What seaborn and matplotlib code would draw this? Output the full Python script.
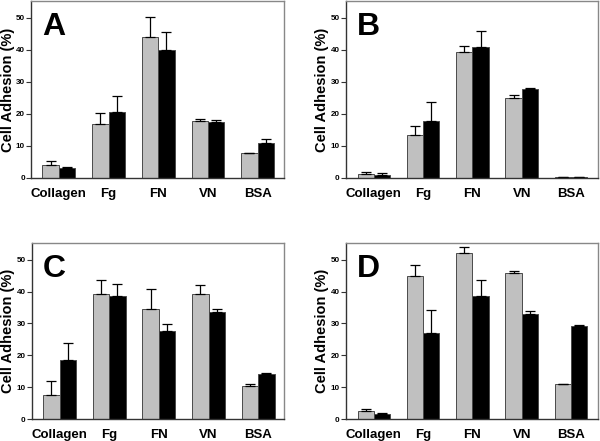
import matplotlib
matplotlib.use("Agg")
import matplotlib.pyplot as plt
import seaborn as sns
import pandas as pd
import numpy as np

categories = ["Collagen", "Fg", "FN", "VN", "BSA"]
groups = ["gray", "black"]

# Panel A
a_gray = [3.95, 17.0, 43.9, 17.7, 7.7]
a_gray_sd = [1.25, 3.3, 6.5, 0.8, 0.2]
a_black = [3.1, 20.6, 40.0, 17.5, 11.0]
a_black_sd = [0.2, 5.1, 5.5, 0.6, 1.1]
# Panel B
b_gray = [1.25, 13.3, 39.5, 25.1, 0.3]
b_gray_sd = [0.65, 2.9, 1.8, 0.8, 0.1]
b_black = [1.0, 17.8, 41.0, 27.8, 0.2]
b_black_sd = [0.6, 6.1, 5.0, 0.2, 0.05]
# Panel C
c_gray = [7.6, 39.3, 34.4, 39.3, 10.5]
c_gray_sd = [4.5, 4.3, 6.4, 2.8, 0.5]
c_black = [18.7, 38.6, 27.5, 33.6, 14.3]
c_black_sd = [5.3, 3.8, 2.4, 1.0, 0.3]
# Panel D
d_gray = [2.7, 45.0, 52.1, 45.8, 10.9]
d_gray_sd = [0.5, 3.4, 2.0, 0.7, 0.3]
d_black = [1.55, 26.9, 38.5, 32.9, 29.2]
d_black_sd = [0.45, 7.4, 5.0, 1.05, 0.4]

panels = [
    ("A", a_gray, a_gray_sd, a_black, a_black_sd),
    ("B", b_gray, b_gray_sd, b_black, b_black_sd),
    ("C", c_gray, c_gray_sd, c_black, c_black_sd),
    ("D", d_gray, d_gray_sd, d_black, d_black_sd),
]

sns.set_style("white")
plt.rcParams["font.family"] = ["Liberation Sans", "DejaVu Sans"]
plt.rcParams["font.weight"] = "bold"
plt.rcParams["text.color"] = "black"
plt.rcParams["axes.labelcolor"] = "black"
plt.rcParams["xtick.color"] = "black"
plt.rcParams["ytick.color"] = "black"

fig = plt.figure(figsize=(6.0, 4.41), dpi=100)
W, H = 600.0, 441.0
# pixel boxes: left, top, right, bottom
boxes = [
    (31, 1, 284, 178),
    (345.7, 1, 597.7, 178),
    (31.7, 242.7, 284, 419.3),
    (345.7, 242.7, 597.7, 419.3),
]
xlims = [(-0.56, 4.53), (-0.57, 4.54), (-0.56, 4.52), (-0.57, 4.54)]
letter_x = [11, 11, 11, 11]
ylabel_x = [15, 329, 15, 329]

palette = {"gray": "#c0c0c0", "black": "#000000"}

for i, (letter, g, gsd, b, bsd) in enumerate(panels):
    l, t, r, btm = boxes[i]
    ax = fig.add_axes([l / W, 1 - btm / H, (r - l) / W, (btm - t) / H])
    df = pd.DataFrame({
        "cat": categories * 2,
        "grp": ["gray"] * 5 + ["black"] * 5,
        "val": list(g) + list(b),
    })
    sns.barplot(data=df, x="cat", y="val", hue="grp", order=categories,
                hue_order=groups, palette=palette, width=0.66, gap=0,
                errorbar=None, edgecolor="#4a4a4a", linewidth=0.7,
                legend=False, ax=ax, saturation=1)
    sds = {"gray": gsd, "black": bsd}
    for cont, grp in zip(ax.containers, groups):
        xs = [p.get_x() + p.get_width() / 2 for p in cont]
        ys = [p.get_height() for p in cont]
        err = np.array(sds[grp])
        ax.errorbar(xs, ys, yerr=[np.zeros_like(err), err], fmt="none",
                    ecolor="black", elinewidth=0.9, capsize=3.3,
                    capthick=0.9, zorder=1)
    ax.set_xlim(*xlims[i])
    ax.set_ylim(0, 55.3)
    ax.set_yticks([0, 10, 20, 30, 40, 50])
    ax.set_yticklabels(["0", "10", "20", "30", "40", "50"], fontsize=5.8,
                       fontweight="bold")
    ax.set_xticks(range(5))
    ax.set_xticklabels(categories, fontsize=9.5, fontweight="bold")
    ax.tick_params(axis="x", length=0, pad=7)
    ax.tick_params(axis="y", length=3.3, width=0.8, pad=1, direction="out",
                   left=True, color="#333333")
    ax.set_xlabel("")
    ax.set_ylabel("Cell Adhesion (%)", fontsize=10.5, fontweight="bold")
    ax.yaxis.set_label_coords((ylabel_x[i] - l) / (r - l), 0.5)
    for side in ["left", "bottom"]:
        ax.spines[side].set_color("#333333")
        ax.spines[side].set_linewidth(1.0)
    for side in ["top", "right"]:
        ax.spines[side].set_color("#888888")
        ax.spines[side].set_linewidth(1.0)
    ax.text(letter_x[i] / (r - l), 1 - 11 / (btm - t), letter,
            transform=ax.transAxes, fontsize=23, fontweight="bold",
            va="top", ha="left", color="black")

fig.savefig("out.png", dpi=100)
